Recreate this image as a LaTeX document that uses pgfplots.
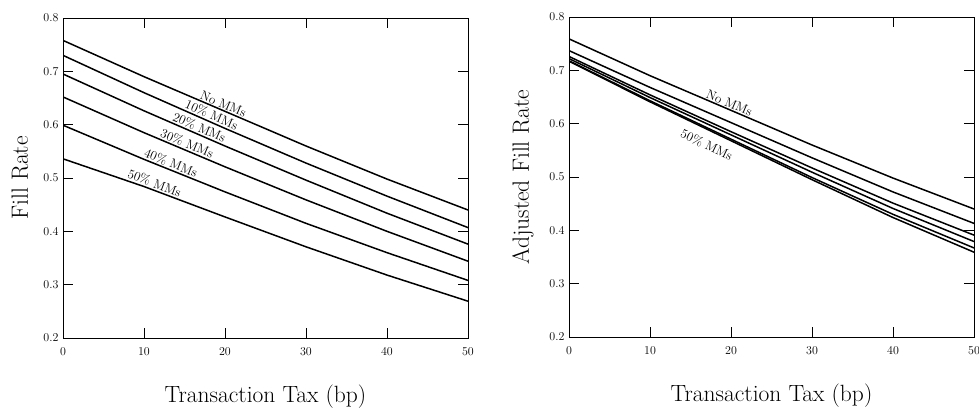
\documentclass[border=0pt]{standalone}
\usepackage{pgfplots}
\pgfplotsset{compat=1.18}
\tikzset{lab/.style={font=\fontsize{13}{14}\selectfont, sloped, inner sep=1pt, text=black}}
\begin{document}
\begin{tikzpicture}
\useasboundingbox (0pt,0pt) rectangle (979pt,410pt);
\pgfplotsset{
  myax/.style={
    scale only axis, width=405pt, height=320pt,
    xmin=0, xmax=50, ymin=0.2, ymax=0.8,
    xtick={0,10,20,30,40,50},
    ytick={0.2,0.3,0.4,0.5,0.6,0.7,0.8},
    yticklabel style={/pgf/number format/fixed,/pgf/number format/precision=1,/pgf/number format/fixed zerofill},
    tick align=inside, major tick length=10pt,
    minor tick num=0,
    tick label style={font=\fontsize{11.5}{12}\selectfont},
    xticklabel style={yshift=-6pt},
    yticklabel style={xshift=-1pt},
    label style={font=\fontsize{23.5}{25}\selectfont},
    xlabel style={at={(axis description cs:0.5,0)}, anchor=center, yshift=-59pt},
    ylabel style={at={(axis description cs:0,0.5)}, anchor=center},
    every axis plot post/.append style={black, solid, line width=1.5pt},
    no marks,
    axis line style={line width=0.9pt},
    every tick/.style={black, line width=0.9pt},
    xlabel={Transaction Tax (bp)},
  },
}
\begin{axis}[myax, at={(63pt,72pt)}, anchor=south west, ylabel={Fill Rate}, ylabel style={yshift=43pt}]
\addplot coordinates {(0,0.758) (10,0.690) (20,0.625) (30,0.560) (40,0.498) (50,0.440)} node[lab, pos=0.39, above] {No MMs};
\addplot coordinates {(0,0.730) (10,0.660) (20,0.593) (30,0.528) (40,0.466) (50,0.407)} node[lab, pos=0.36, above] {10\% MMs};
\addplot coordinates {(0,0.695) (10,0.626) (20,0.560) (30,0.496) (40,0.434) (50,0.376)} node[lab, pos=0.33, above] {20\% MMs};
\addplot coordinates {(0,0.652) (10,0.585) (20,0.521) (30,0.459) (40,0.400) (50,0.344)} node[lab, pos=0.30, above] {30\% MMs};
\addplot coordinates {(0,0.599) (10,0.535) (20,0.474) (30,0.415) (40,0.360) (50,0.308)} node[lab, pos=0.26, above] {40\% MMs};
\addplot coordinates {(0,0.536) (10,0.484) (20,0.427) (30,0.371) (40,0.318) (50,0.269)} node[lab, pos=0.22, above] {50\% MMs};
\end{axis}
\begin{axis}[myax, at={(569pt,73pt)}, anchor=south west, ylabel={Adjusted Fill Rate}, ylabel style={yshift=46pt}]
\addplot coordinates {(0,0.759) (10,0.690) (20,0.625) (30,0.560) (40,0.498) (50,0.440)} node[lab, pos=0.39, above] {No MMs};
\addplot coordinates {(0,0.737) (10,0.668) (20,0.602) (30,0.536) (40,0.472) (50,0.413)};
\addplot coordinates {(0,0.726) (10,0.654) (20,0.585) (30,0.517) (40,0.451) (50,0.391)};
\addplot coordinates {(0,0.722) (10,0.649) (20,0.579) (30,0.509) (40,0.441) (50,0.379)};
\addplot coordinates {(0,0.718) (10,0.643) (20,0.571) (30,0.499) (40,0.430) (50,0.367)};
\addplot coordinates {(0,0.717) (10,0.641) (20,0.568) (30,0.495) (40,0.424) (50,0.359)} node[lab, pos=0.355, below=7pt] {50\% MMs};
\end{axis}
\end{tikzpicture}
\end{document}
